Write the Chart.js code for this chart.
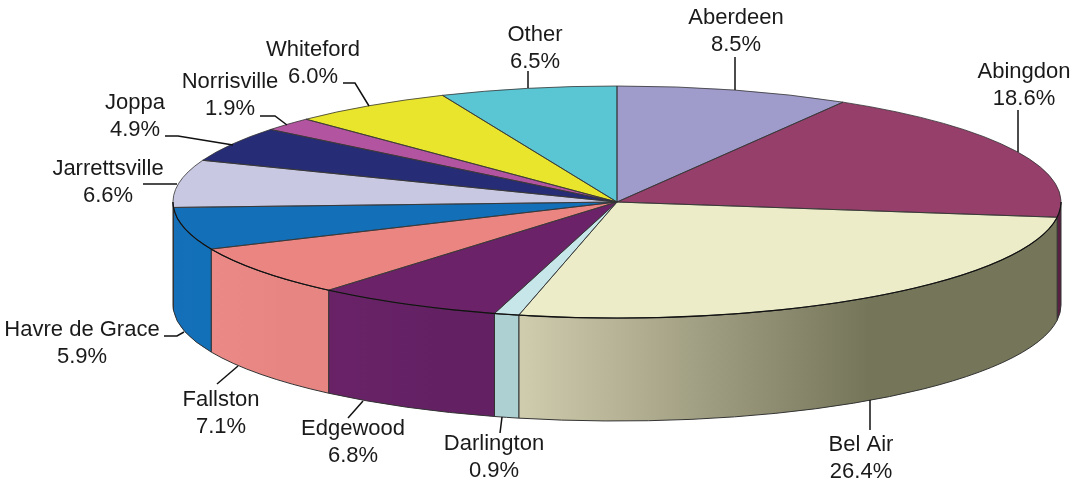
<!DOCTYPE html>
<html>
<head>
<meta charset="utf-8">
<style>
  html, body { margin: 0; padding: 0; background: #fff; }
  canvas { display: block; }
</style>
<script src="https://cdn.jsdelivr.net/npm/chart.js@4"></script>
</head>
<body>
<canvas id="pieChart" width="1082" height="485"></canvas>
<script>
const categories = ['Aberdeen', 'Abingdon', 'Bel Air', 'Darlington', 'Edgewood', 'Fallston',
  'Havre de Grace', 'Jarrettsville', 'Joppa', 'Norrisville', 'Whiteford', 'Other'];
// printed percentages add up to 100.1, slice sizes are what the drawn angles read as
const shareLabels = ['8.5%', '18.6%', '26.4%', '0.9%', '6.8%', '7.1%', '5.9%', '6.6%', '4.9%', '1.9%', '6.0%', '6.5%'];
const sliceSizes = [8.5, 18.6, 26.45, 0.9, 6.8, 7.1, 5.9, 6.6, 4.9, 1.9, 5.92, 6.43];

const topColors = ['#9f9bcb', '#963f6b', '#ecedc8', '#c6e6ea', '#6b2268', '#eb8582',
  '#136fb8', '#c8c8e3', '#272c77', '#b2549f', '#e8e52c', '#5bc6d3'];
// side wall shading, left end then right end
const wallLeft = ['#9f9bcb', '#5a2042', '#d0ccae', '#add0d3', '#6a2267', '#ea8985',
  '#156fb9', '#c8c8e3', '#272c77', '#b2549f', '#e8e52c', '#5bc6d3'];
const wallRight = ['#9f9bcb', '#5a2042', '#75755a', '#add0d3', '#632164', '#e68582',
  '#1270b8', '#c8c8e3', '#272c77', '#b2549f', '#e8e52c', '#5bc6d3'];

// label centres (first line) and leader lines
const labelX = [736, 1024, 861, 494, 353, 221, 82, 108, 135, 230, 313, 535];
const labelY = [18, 72, 445, 444, 429, 400, 330, 169, 103, 82, 50, 35];
const leaders = [
  [[735, 57], [735, 90]],
  [[1018, 110], [1018, 152]],
  [[870, 400], [870, 430]],
  [[500, 433], [502, 417]],
  [[348, 418], [363, 401]],
  [[217, 384], [238, 366]],
  [[164, 336], [177, 336], [184, 332]],
  [[143, 184], [177, 184]],
  [[165, 136], [178, 136], [233, 145]],
  [[260, 116], [275, 116], [287, 125]],
  [[343, 83], [355, 83], [369, 106]],
  [[528, 71], [528, 88]]
];

const pieRx = 444;
const pieRy = 116;
const wallDepth = 103;
const lineGap = 26.5;
const edgeColor = '#333';

const pie3d = {
  id: 'pie3d',
  beforeDatasetsDraw(chart) {
    const ctx = chart.ctx;
    const arcs = chart.getDatasetMeta(0).data;
    const cx = arcs[0].x, cy = arcs[0].y, R = arcs[0].outerRadius;

    arcs.forEach((arc, i) => {
      const a1 = Math.max(arc.startAngle, 0);
      const a2 = Math.min(arc.endAngle, Math.PI);
      if (a2 <= a1) return;
      const x1 = cx + pieRx * Math.cos(a2);
      const x2 = cx + pieRx * Math.cos(a1);
      const grad = ctx.createLinearGradient(x1, 0, x2, 0);
      grad.addColorStop(0, wallLeft[i]);
      grad.addColorStop(0.65, wallRight[i]);
      grad.addColorStop(1, wallRight[i]);
      ctx.beginPath();
      ctx.ellipse(cx, cy, pieRx, pieRy, 0, a1, a2);
      ctx.ellipse(cx, cy + wallDepth, pieRx, pieRy, 0, a2, a1, true);
      ctx.closePath();
      ctx.fillStyle = grad;
      ctx.fill();
      ctx.lineWidth = 1;
      ctx.strokeStyle = edgeColor;
      ctx.stroke();
    });

    // squash the round pie into the tilted top face
    ctx.save();
    ctx.translate(cx, cy);
    ctx.scale(pieRx / R, pieRy / R);
    ctx.translate(-cx, -cy);
  },
  afterDatasetsDraw(chart) {
    const ctx = chart.ctx;
    ctx.restore();
    const arcs = chart.getDatasetMeta(0).data;
    const cx = arcs[0].x, cy = arcs[0].y;

    arcs.forEach((arc) => {
      ctx.beginPath();
      ctx.moveTo(cx, cy);
      ctx.ellipse(cx, cy, pieRx, pieRy, 0, arc.startAngle, arc.endAngle);
      ctx.closePath();
      ctx.lineWidth = 0.8;
      ctx.strokeStyle = edgeColor;
      ctx.stroke();
    });

    // front rim is darker than the back one
    ctx.beginPath();
    ctx.ellipse(cx, cy, pieRx, pieRy, 0, 0, Math.PI);
    ctx.lineWidth = 1.1;
    ctx.strokeStyle = '#111';
    ctx.stroke();

    ctx.strokeStyle = '#111';
    ctx.lineWidth = 1.5;
    leaders.forEach((pts) => {
      ctx.beginPath();
      pts.forEach((p, k) => k ? ctx.lineTo(p[0], p[1]) : ctx.moveTo(p[0], p[1]));
      ctx.stroke();
    });

    ctx.fillStyle = '#1a1a1a';
    ctx.font = '22px "Liberation Sans", Arial, sans-serif';
    ctx.textAlign = 'center';
    ctx.textBaseline = 'middle';
    categories.forEach((name, i) => {
      ctx.fillText(name, labelX[i], labelY[i]);
      ctx.fillText(shareLabels[i], labelX[i], labelY[i] + lineGap);
    });
  }
};

new Chart(document.getElementById('pieChart').getContext('2d'), {
  type: 'pie',
  data: {
    labels: categories,
    datasets: [{
      data: sliceSizes,
      backgroundColor: topColors,
      borderWidth: 0,
      clip: false
    }]
  },
  options: {
    responsive: false,
    animation: false,
    layout: { padding: { left: 152, right: 0, top: 0, bottom: 81 } },
    plugins: { legend: { display: false }, tooltip: { enabled: false } }
  },
  plugins: [pie3d]
});
</script>
</body>
</html>
